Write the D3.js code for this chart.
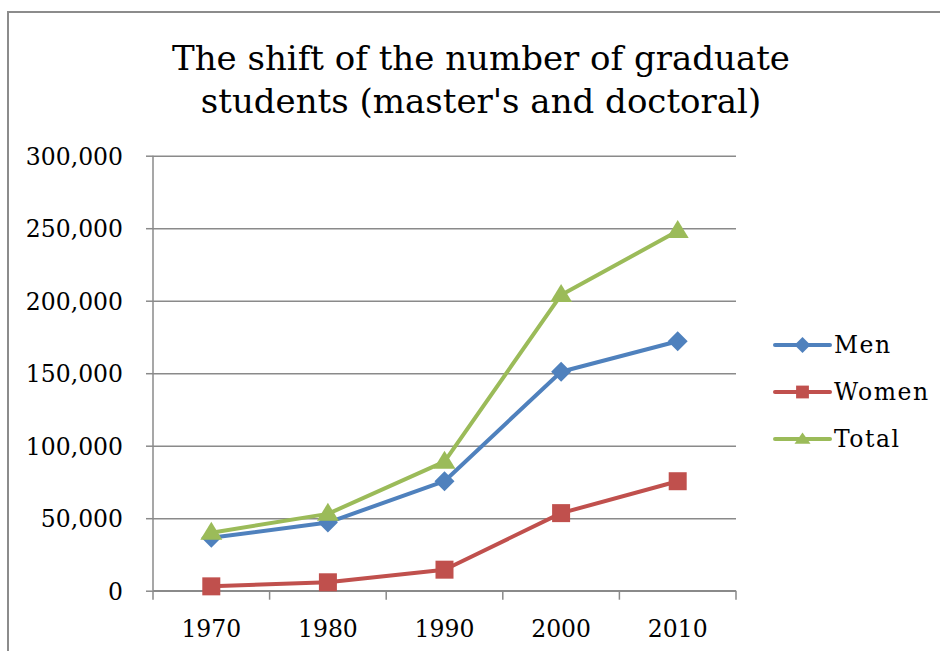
<!DOCTYPE html>
<html>
<head>
<meta charset="utf-8">
<script src="https://cdn.jsdelivr.net/npm/d3@7"></script>
<style>
  body { margin: 0; background: #fff; }
  svg { display: block; font-family: "DejaVu Serif", serif; }
</style>
</head>
<body>
<svg id="chart" width="940" height="651"></svg>
<script>
// data
const years = ["1970", "1980", "1990", "2000", "2010"];
const men = [36500, 47000, 75500, 151000, 172000];
const women = [3000, 5800, 14500, 53500, 75500];
const total = [40000, 53000, 89000, 204000, 248000];
const yTicks = [0, 50000, 100000, 150000, 200000, 250000, 300000];
const titleLines = ["The shift of the number of graduate", "students (master's and doctoral)"];

const series = [
  {name: "Men", values: men, color: "#4F81BD", shape: "diamond"},
  {name: "Women", values: women, color: "#C0504D", shape: "square"},
  {name: "Total", values: total, color: "#9BBB59", shape: "triangle"}
];

const setting = {
  plotLeft: 153, plotRight: 736, plotTop: 155.7, plotBottom: 590.7,
  gridColor: "#8a8a8a", fontSize: 23.5
};

const svg = d3.select("#chart");

// outer frame, runs off the right and bottom of the picture
svg.append("rect")
    .attr("x", 8).attr("y", 12)
    .attr("width", 1000).attr("height", 1000)
    .attr("fill", "none").attr("stroke", "#8c8c8c").attr("stroke-width", 2);

svg.append("text")
    .attr("x", 481).attr("y", 70)
    .attr("text-anchor", "middle")
    .attr("font-size", 34)
    .selectAll("tspan").data(titleLines).join("tspan")
    .attr("x", 481).attr("dy", (d, i) => i ? 43 : 0)
    .text(d => d);

const x = d3.scaleBand().domain(years).range([setting.plotLeft, setting.plotRight]);
const y = d3.scaleLinear().domain([0, 300000]).range([setting.plotBottom, setting.plotTop]);

// y axis with gridlines
const yAxis = svg.append("g")
    .attr("transform", "translate(" + setting.plotLeft + ",0)")
    .call(d3.axisLeft(y).tickValues(yTicks).tickFormat(d3.format(",")).tickSize(7).tickPadding(23));
yAxis.select(".domain").attr("stroke", setting.gridColor).attr("stroke-width", 1.5).attr("d",
    "M0," + setting.plotTop + "V" + setting.plotBottom);
yAxis.selectAll(".tick line").attr("stroke", setting.gridColor).attr("stroke-width", 1.5);
yAxis.selectAll(".tick").append("line")
    .attr("x2", setting.plotRight - setting.plotLeft)
    .attr("stroke", setting.gridColor).attr("stroke-width", 1.5);
yAxis.selectAll(".tick text")
    .attr("font-family", "DejaVu Serif").attr("font-size", setting.fontSize).attr("fill", "#000")
    .attr("dy", "0.36em");

// x axis: ticks on the category boundaries
const xAxis = svg.append("g")
    .attr("transform", "translate(0," + setting.plotBottom + ")");
xAxis.append("line")
    .attr("x1", setting.plotLeft).attr("x2", setting.plotRight)
    .attr("stroke", setting.gridColor).attr("stroke-width", 1.5);
const bounds = years.map(d => x(d)).concat([setting.plotRight]);
xAxis.selectAll(".xtick").data(bounds).join("line")
    .attr("x1", d => d).attr("x2", d => d).attr("y1", 0).attr("y2", 9)
    .attr("stroke", setting.gridColor).attr("stroke-width", 1.5);
xAxis.selectAll(".xlabel").data(years).join("text")
    .attr("x", d => x(d) + x.bandwidth() / 2).attr("y", 46)
    .attr("text-anchor", "middle").attr("font-size", setting.fontSize)
    .text(d => d);

function markerPath(shape) {
  if (shape === "diamond") return "M0,-10L10,0L0,10L-10,0Z";
  if (shape === "square") return "M-9,-9H9V9H-9Z";
  return "M0,-11L11,7H-11Z";
}

const cx = (d, i) => x(years[i]) + x.bandwidth() / 2;
const line = d3.line().x(cx).y(d => y(d));

const lines = svg.append("g");
series.forEach(s => {
  lines.append("path")
      .attr("d", line(s.values))
      .attr("fill", "none").attr("stroke", s.color).attr("stroke-width", 4)
      .attr("stroke-linejoin", "round");
});
series.forEach(s => {
  lines.selectAll(null).data(s.values).join("path")
      .attr("d", markerPath(s.shape))
      .attr("transform", (d, i) => "translate(" + cx(d, i) + "," + y(d) + ")")
      .attr("fill", s.color);
});

// legend
const legend = svg.append("g").attr("transform", "translate(775,345)");
const item = legend.selectAll("g").data(series).join("g")
    .attr("transform", (d, i) => "translate(0," + i * 47 + ")");
item.append("line").attr("x1", 0).attr("x2", 55)
    .attr("stroke", d => d.color).attr("stroke-width", 4).attr("stroke-linecap", "round");
item.append("path")
    .attr("d", d => d.shape === "triangle" ? "M0,-8L10,6H-10Z" : d.shape === "square" ? "M-8,-8H8V8H-8Z" : markerPath(d.shape))
    .attr("transform", "translate(27.5,0) scale(0.8)")
    .attr("fill", d => d.color);
item.append("text").attr("x", 59).attr("y", 8)
    .attr("font-size", setting.fontSize).attr("letter-spacing", 1.5)
    .text(d => d.name);
</script>
</body>
</html>
